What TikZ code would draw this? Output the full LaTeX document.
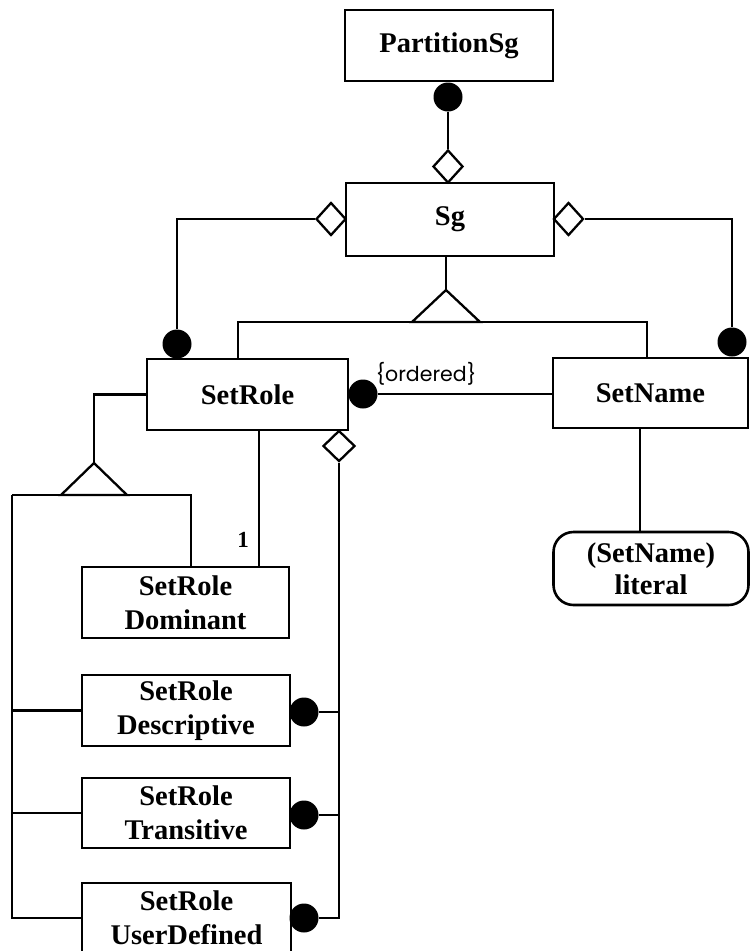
\documentclass[tikz,border=0pt]{standalone}
\usepackage{fontspec}
\setmainfont{Liberation Serif}
\newfontfamily\notefont{Poppins}
\usetikzlibrary{shapes.geometric}

\begin{document}
\begin{tikzpicture}[x=1pt,y=-1pt,
  box/.style={draw, line width=2.6pt, inner sep=0pt, align=center,
    font=\fontsize{28.5}{34}\selectfont\bfseries},
  link/.style={line width=2.1pt},
  dot/.style={circle, fill=black, inner sep=0pt, minimum size=29pt},
  agg/.style={diamond, draw, fill=white, line width=2.3pt, inner sep=0pt,
    minimum width=30pt, minimum height=33pt},
  gentri/.style={line width=2.3pt, line join=miter},
]
\useasboundingbox (0,0) rectangle (750,951);
\clip (0,0) rectangle (750,951);

% classes
\node[box, minimum width=208pt, minimum height=71pt] (ps) at (449,45.5) {PartitionSg};
\node[box, minimum width=208pt, minimum height=73pt] (sg) at (450,219.5) {Sg};
\node[box, minimum width=201pt, minimum height=71pt] (sr) at (247.5,394.5) {SetRole};
\node[box, minimum width=195pt, minimum height=70pt] (sn) at (650.5,393) {SetName};
\node[box, rounded corners=20pt, minimum width=195pt, minimum height=73pt,
  font=\fontsize{28.5}{32}\selectfont\bfseries] (lit) at (651,568.5) {(SetName)\\literal};
\node[box, minimum width=207pt, minimum height=71pt] (dom) at (185.5,602.5) {SetRole\\Dominant};
\node[box, minimum width=208pt, minimum height=71pt] (des) at (186,710.5) {SetRole\\Descriptive};
\node[box, minimum width=208pt, minimum height=70pt] (tra) at (186,813) {SetRole\\Transitive};
\node[box, minimum width=209pt, minimum height=70pt] (usr) at (186.5,918) {SetRole\\UserDefined};

% PartitionSg aggregates Sg
\node[dot] (psdot) at (448,97) {};
\node[agg] (sgtop) at (448,166.5) {};
\draw[link] (psdot) -- (sgtop.north);

% Sg aggregates SetRole and SetName
\node[agg] (sgl) at (331,219) {};
\node[agg] (sgr) at (568.5,219) {};
\node[dot] (srtop) at (177,344) {};
\node[dot] (sntop) at (732,342) {};
\draw[link] (sgl.west) -| (srtop.north);
\draw[link] (sgr.east) -| (sntop.north);

% generalization of Sg
\coordinate (sgapex) at (446,290);
\draw[link] (sg.south -| sgapex) -- (sgapex);
\draw[gentri] (sgapex) -- ++(-34,32) -- ++(68,0) -- cycle;
\coordinate (genl) at (238,322);
\coordinate (genr) at (647,322);
\draw[link] (sr.north -| genl) -- (genl) -- (genr) -- (sn.north -| genr);

% SetRole -- SetName, ordered
\node[dot] (srright) at (363,394) {};
\draw[link] (srright.east) -- (srright.east -| sn.west);
\node[font=\notefont\fontsize{20.5}{22}\selectfont] (ord) at (426,374) {\{ordered\}};

% generalization of SetRole
\coordinate (srapex) at (94,463);
\draw[link] (sr.west) -| (srapex);
\draw[gentri] (srapex) -- ++(-33,32) -- ++(66,0) -- cycle;
\coordinate (subl) at (12,495);
\coordinate (subr) at (191,495);
\draw[link] (subl) -- (subr) -- (dom.north -| subr);
\draw[link] (subl) |- (usr.west);
\draw[link] (des.west -| subl) -- (des.west);
\draw[link] (tra.west -| subl) -- (tra.west);

% SetRole -- Dominant
\coordinate (drop) at (259,500);
\draw[link] (sr.south -| drop) -- (dom.north -| drop);
\node[font=\fontsize{23}{26}\selectfont\bfseries] (mult) at (243,540) {1};

% SetRole aggregates the other roles
\node[agg, minimum width=32pt, minimum height=31pt] (srd) at (339,446) {};
\node[dot] (desdot) at (304,712) {};
\node[dot] (tradot) at (304,815) {};
\node[dot] (usrdot) at (304,918) {};
\draw[link] (srd.south) |- (usrdot);
\draw[link] (desdot) -- (desdot -| srd.south);
\draw[link] (tradot) -- (tradot -| srd.south);

% SetName -- literal
\coordinate (snlit) at (640,480);
\draw[link] (sn.south -| snlit) -- (lit.north -| snlit);
\end{tikzpicture}
\end{document}
